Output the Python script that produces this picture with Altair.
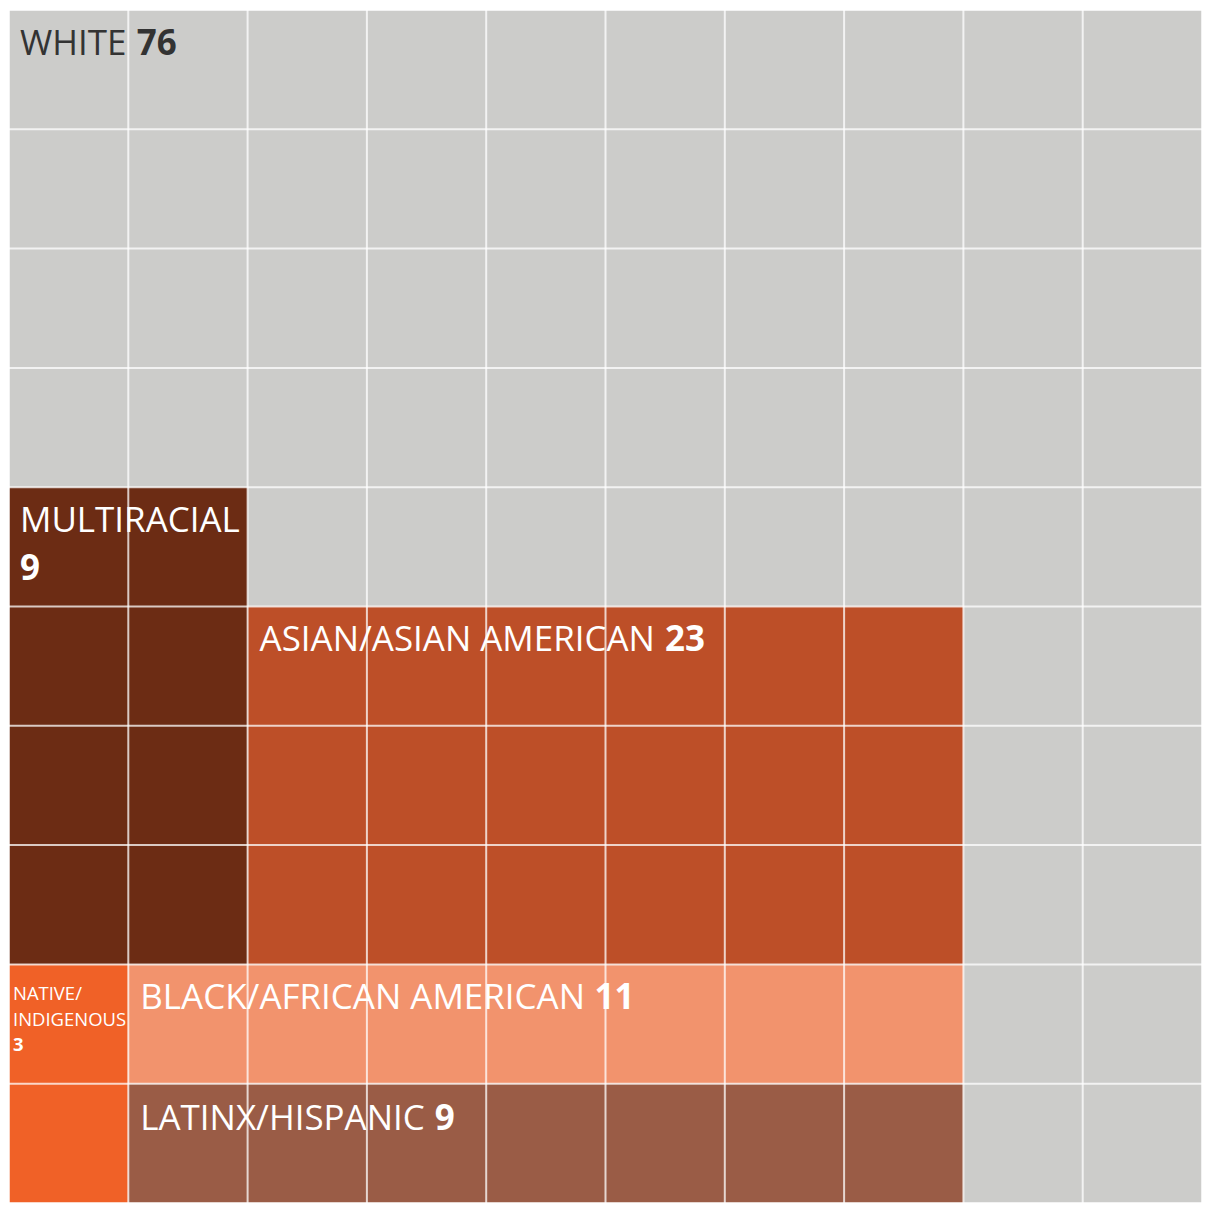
import altair as alt
import pandas as pd

# ---- data ----
categories = ["White", "Multiracial", "Asian/Asian American", "Native/Indigenous",
              "Black/African American", "Latinx/Hispanic"]
label_names = ["WHITE", "MULTIRACIAL", "ASIAN/ASIAN AMERICAN", "NATIVE/\nINDIGENOUS",
               "BLACK/AFRICAN AMERICAN", "LATINX/HISPANIC"]
counts = [76, 9, 23, 3, 11, 9]
# block extents in grid cells (10 x 10 waffle); White fills the remainder
col_start = [0, 0, 2, 0, 1, 1]
col_end = [10, 2, 8, 1, 8, 8]
row_start = [0, 4, 5, 8, 8, 9]
row_end = [10, 8, 8, 10, 9, 10]
grid_lines = list(range(11))

# ---- styles ----
colors = ["#CCCCCA", "#6C2C14", "#BD4F28", "#F06127", "#F2936D", "#9A5C46"]
text_colors = ["#333333", "#FFFFFF", "#FFFFFF", "#FFFFFF", "#FFFFFF", "#FFFFFF"]
W = 1195
FONT = "Open Sans"
big = 35
small = 18.5
# (name dx, name dy, number dx, number dy, font size)
offsets = {
    "White": (11, 45, 128, 45, big),
    "Multiracial": (11, 45, 11, 93, big),
    "Asian/Asian American": (12, 45, 418, 45, big),
    "Native/Indigenous": (4, 36, 4, 87, small),
    "Black/African American": (12, 45, 467, 45, big),
    "Latinx/Hispanic": (12, 46, 307, 46, big),
}

blocks = pd.DataFrame({
    "category": categories,
    "c0": col_start, "c1": col_end, "r0": row_start, "r1": row_end,
})

xs = alt.Scale(domain=[0, 10], nice=False, zero=False)
ys = alt.Scale(domain=[0, 10], nice=False, zero=False, reverse=True)

rects = alt.Chart(blocks).mark_rect(strokeWidth=0).encode(
    x=alt.X("c0:Q", scale=xs, axis=None),
    x2="c1:Q",
    y=alt.Y("r0:Q", scale=ys, axis=None),
    y2="r1:Q",
    color=alt.Color("category:N", scale=alt.Scale(domain=categories, range=colors), legend=None),
    order=alt.Order("c0:Q"),
)

gl = pd.DataFrame({"v": grid_lines})
vlines = alt.Chart(gl).mark_rule(color="white", strokeWidth=2, opacity=0.75).encode(
    x=alt.X("v:Q", scale=xs, axis=None))
hlines = alt.Chart(gl).mark_rule(color="white", strokeWidth=2, opacity=0.75).encode(
    y=alt.Y("v:Q", scale=ys, axis=None))

layers = [rects, vlines, hlines]
for cat, name, cnt, c0, r0, tc in zip(categories, label_names, counts, col_start, row_start, text_colors):
    ndx, ndy, mdx, mdy, fs = offsets[cat]
    d = pd.DataFrame({"name": [name], "num": [str(cnt)], "c0": [c0], "r0": [r0]})
    base = alt.Chart(d)
    lh = 26 if fs == small else 48
    layers.append(base.mark_text(align="left", baseline="alphabetic", dx=ndx, dy=ndy,
                                 font=FONT, fontSize=fs, fontWeight="normal", color=tc,
                                 lineBreak="\n", lineHeight=lh).encode(
        x=alt.X("c0:Q", scale=xs, axis=None), y=alt.Y("r0:Q", scale=ys, axis=None), text="name:N"))
    layers.append(base.mark_text(align="left", baseline="alphabetic", dx=mdx, dy=mdy,
                                 font=FONT, fontSize=fs, fontWeight="bold", color=tc).encode(
        x=alt.X("c0:Q", scale=xs, axis=None), y=alt.Y("r0:Q", scale=ys, axis=None), text="num:N"))

chart = alt.layer(*layers).properties(width=W, height=W, padding=0).configure_view(strokeWidth=0)
chart.save("out.html", embed_options={"renderer": "svg", "actions": False})
